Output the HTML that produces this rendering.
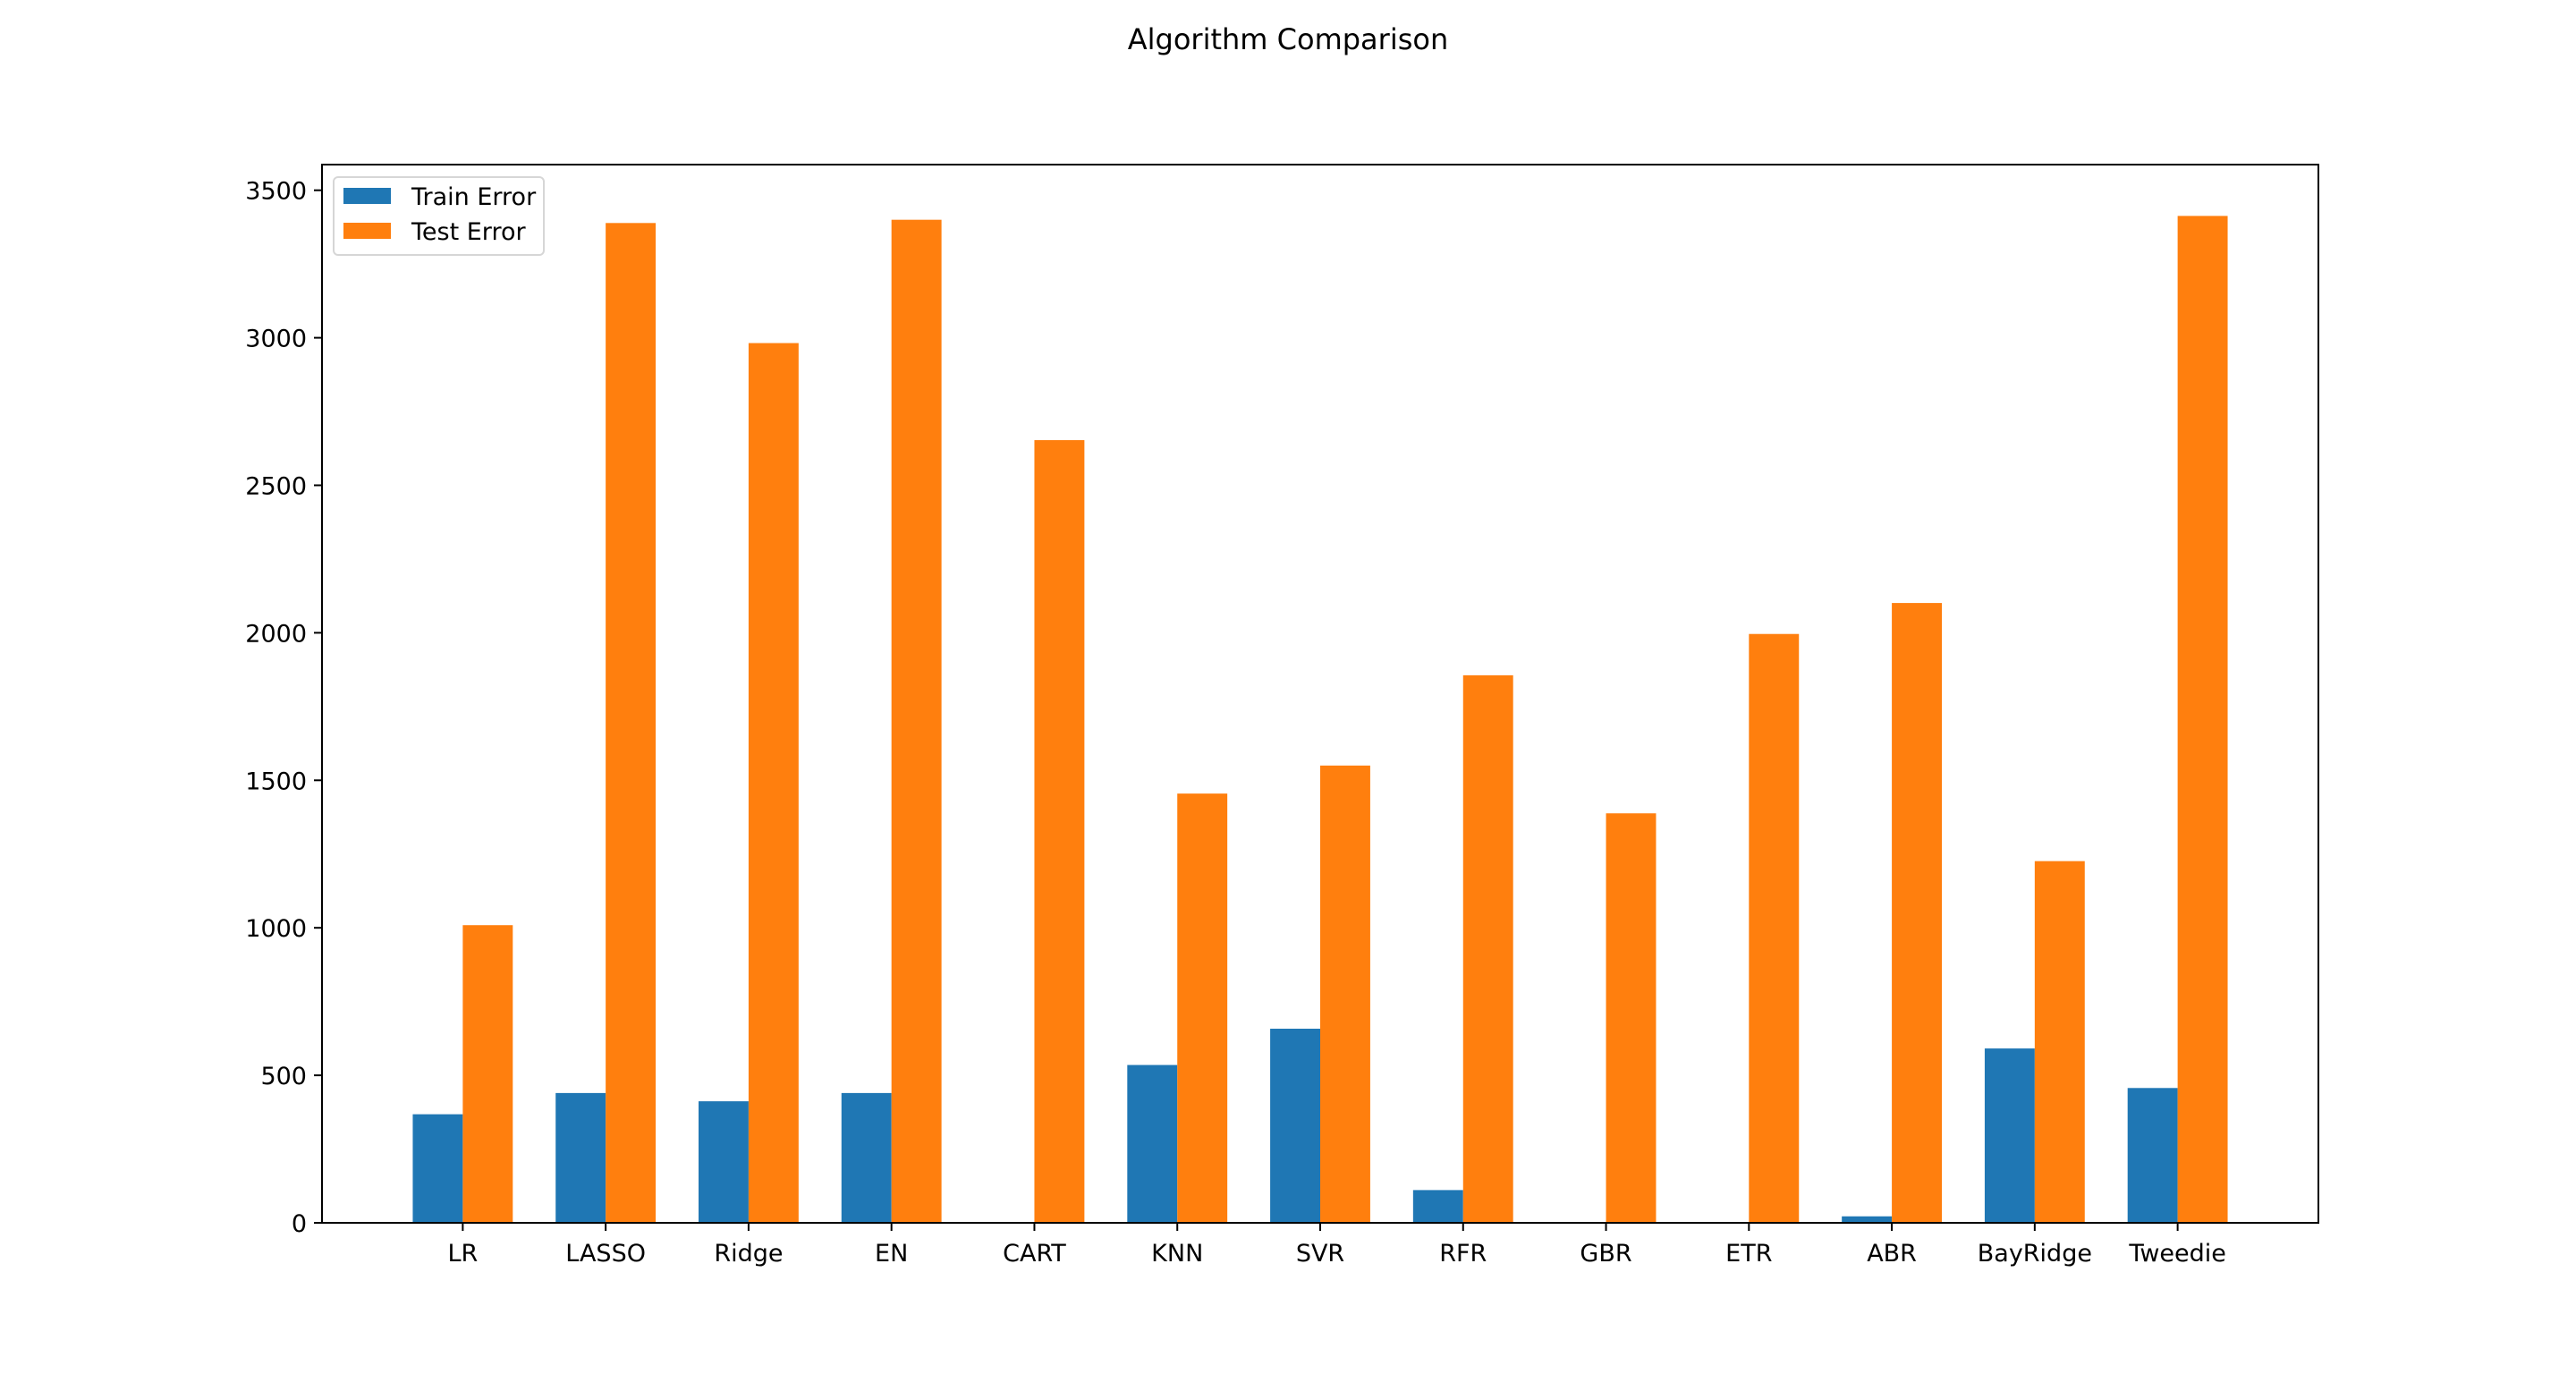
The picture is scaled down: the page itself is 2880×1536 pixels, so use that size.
<!DOCTYPE html>
<html><head><meta charset="utf-8"><style>html,body{margin:0;padding:0;background:#fff}svg{display:block}</style></head>
<body>
<svg id="chart" xmlns="http://www.w3.org/2000/svg" width="2880" height="1536" viewBox="0 0 2880 1536" font-family="DejaVu Sans, Liberation Sans, sans-serif">
<rect width="2880" height="1536" fill="#fff"/>
<text x="1440" y="55" font-size="32" text-anchor="middle">Algorithm Comparison</text>
<g id="plot"></g>
</svg>
<script>
const categories = ["LR","LASSO","Ridge","EN","CART","KNN","SVR","RFR","GBR","ETR","ABR","BayRidge","Tweedie"];
const trainError = [368,440,412,440,0,535,658,111,0,0,22,591,457];
const testError = [1009,3389,2982,3400,2653,1455,1550,1856,1388,1996,2101,1226,3413];
const yTicks = [0,500,1000,1500,2000,2500,3000,3500];

const L=360,R=2592,T=184,B=1367;
const xMin=-0.985,xMax=12.985,yMin=0,yMax=3587;
const xs=v=>L+(v-xMin)/(xMax-xMin)*(R-L);
const ys=v=>B-(v-yMin)/(yMax-yMin)*(B-T);
const NS="http://www.w3.org/2000/svg";
const g=document.getElementById('plot');
function mk(tag,attrs,parent){const e=document.createElementNS(NS,tag);for(const k in attrs)e.setAttribute(k,attrs[k]);(parent||g).appendChild(e);return e;}
const w=0.35;
categories.forEach((c,i)=>{
  const x1=xs(i-w),x2=xs(i),x3=xs(i+w);
  const b1=mk('rect',{x:x1,y:ys(trainError[i]),width:x2-x1,height:ys(0)-ys(trainError[i]),fill:'#1f77b4'});
  
  
  const b2=mk('rect',{x:x2,y:ys(testError[i]),width:x3-x2,height:ys(0)-ys(testError[i]),fill:'#ff7f0e'});
  
  
  const tk=mk('line',{x1:x2,x2:x2,y1:B,y2:B+9,stroke:'#000','stroke-width':2});
  
  
  const t=mk('text',{x:x2,y:B+43,'font-size':27,'text-anchor':'middle'});
  
  
  t.textContent=c;
});
yTicks.forEach(v=>{
  const y=ys(v);
  const tk=mk('line',{x1:L-9,x2:L,y1:y,y2:y,stroke:'#000','stroke-width':2});
  
  
  const t=mk('text',{x:L-17,y:y+10,'font-size':27,'text-anchor':'end'});
  
  
  t.textContent=v;
});
const frame=mk('rect',{x:L,y:T,width:R-L,height:B-T,fill:'none',stroke:'#000','stroke-width':2});


const lg=mk('g',{});


mk('rect',{x:373,y:198,width:235,height:87,rx:5,fill:'#fff','fill-opacity':0.8,stroke:'#d6d6d6','stroke-width':2},lg);
const p1=mk('rect',{x:384,y:210,width:53,height:18,fill:'#1f77b4'},lg);


const p2=mk('rect',{x:384,y:249,width:53,height:18,fill:'#ff7f0e'},lg);


const l1=mk('text',{x:460,y:229,'font-size':27},lg);l1.textContent='Train Error';


const l2=mk('text',{x:460,y:268,'font-size':27},lg);l2.textContent='Test Error';


</script>
</body></html>
